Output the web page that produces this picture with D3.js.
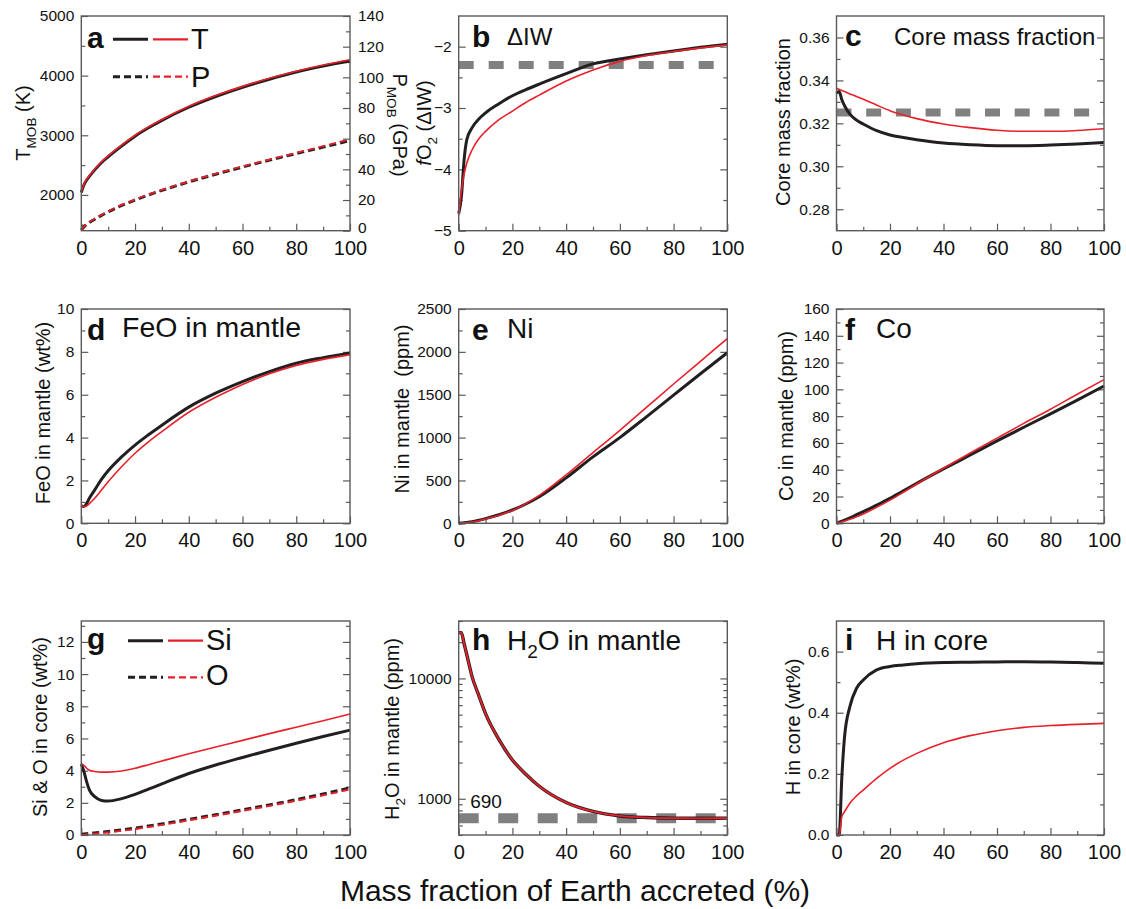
<!DOCTYPE html>
<html>
<head>
<meta charset="utf-8">
<script src="https://cdn.jsdelivr.net/npm/d3@7"></script>
<style>
  body { margin: 0; background: #fff; }
  svg { display: block; }
  text { font-family: "Liberation Sans", Arial, Helvetica, sans-serif; fill: #111; }
</style>
</head>
<body>
<svg id="chart" width="1126" height="909"></svg>
<script>
// Mass fraction of Earth accreted (%) at which every model series is sampled
const accreted = [0, 1, 2, 3, 5, 7.5, 10, 15, 20, 25, 30, 40, 50, 60, 70, 80, 90, 100];

// a: magma-ocean-base temperature (K) and pressure (GPa)
const tempBlack = [2040, 2170, 2250, 2310, 2420, 2540, 2640, 2820, 2985, 3125, 3250, 3470, 3650, 3805, 3940, 4060, 4160, 4245];
const tempRed   = [2050, 2180, 2262, 2322, 2432, 2553, 2655, 2835, 3000, 3140, 3265, 3485, 3665, 3820, 3955, 4075, 4178, 4265];
const presBlack = [0.5, 2.5, 4, 5.3, 7.5, 10, 12.3, 16.5, 20, 23.3, 26.3, 31.8, 36.8, 41.5, 46, 50.3, 54.5, 58.8];
const presRed   = [0.5, 2.7, 4.2, 5.5, 7.8, 10.3, 12.6, 16.8, 20.3, 23.6, 26.6, 32.1, 37.1, 41.9, 46.4, 50.8, 55.1, 59.6];

// b: oxygen fugacity relative to IW
const fo2Black = [-4.72, -4.45, -3.85, -3.52, -3.32, -3.18, -3.08, -2.93, -2.80, -2.70, -2.61, -2.44, -2.28, -2.20, -2.13, -2.07, -2.01, -1.96];
const fo2Red   = [-4.75, -4.35, -4.08, -3.90, -3.68, -3.50, -3.38, -3.19, -3.05, -2.91, -2.79, -2.56, -2.38, -2.24, -2.145, -2.08, -2.02, -1.97];
const fo2Ref = -2.3;

// c: core mass fraction
const cmfBlack = [0.3340, 0.3348, 0.3310, 0.3282, 0.3243, 0.3215, 0.3197, 0.3166, 0.3146, 0.3134, 0.3124, 0.3108, 0.3100, 0.3096, 0.3096, 0.3099, 0.3104, 0.3111];
const cmfRed   = [0.3363, 0.3358, 0.3353, 0.3348, 0.3337, 0.3325, 0.3312, 0.3285, 0.3259, 0.3239, 0.3222, 0.3197, 0.3180, 0.3168, 0.3163, 0.3163, 0.3167, 0.3175];
const cmfRef = 0.325;

// d: FeO in mantle (wt%)
const feoBlack = [0.82, 0.78, 0.93, 1.17, 1.56, 2.05, 2.45, 3.10, 3.65, 4.13, 4.58, 5.42, 6.07, 6.61, 7.08, 7.47, 7.73, 7.95];
const feoRed   = [0.86, 0.78, 0.81, 0.92, 1.17, 1.55, 1.94, 2.64, 3.27, 3.80, 4.28, 5.18, 5.88, 6.48, 6.98, 7.37, 7.65, 7.87];

// e: Ni in mantle (ppm)
const niBlack = [0, 3, 7, 10, 18, 35, 55, 100, 155, 225, 310, 530, 775, 1000, 1245, 1495, 1745, 1990];
const niRed   = [0, 2, 5, 8, 15, 30, 50, 95, 150, 230, 325, 565, 825, 1085, 1355, 1625, 1890, 2155];

// f: Co in mantle (ppm)
const coBlack = [0, 0.8, 1.6, 2.4, 4.1, 6.4, 8.7, 13.6, 18.7, 24.2, 29.8, 40.6, 51.0, 61.5, 71.7, 81.7, 92.0, 102.5];
const coRed   = [0, 0.5, 1.1, 1.7, 3.0, 4.9, 7.0, 11.9, 17.3, 23.2, 29.3, 41.1, 52.5, 63.6, 74.6, 85.2, 96.4, 107.3];

// g: Si and O in core (wt%)
const siBlack = [4.41, 3.93, 3.30, 2.80, 2.38, 2.15, 2.11, 2.26, 2.52, 2.85, 3.18, 3.82, 4.35, 4.82, 5.27, 5.70, 6.12, 6.52];
const siRed   = [4.41, 4.33, 4.15, 4.03, 3.95, 3.91, 3.91, 3.98, 4.15, 4.37, 4.60, 5.05, 5.47, 5.88, 6.30, 6.70, 7.10, 7.52];
const oBlack  = [0.05, 0.06, 0.08, 0.10, 0.13, 0.17, 0.22, 0.32, 0.43, 0.56, 0.69, 0.97, 1.26, 1.56, 1.87, 2.20, 2.55, 2.93];
const oRed    = [0.00, 0.02, 0.03, 0.05, 0.08, 0.12, 0.16, 0.26, 0.37, 0.50, 0.63, 0.91, 1.20, 1.50, 1.81, 2.13, 2.47, 2.83];

// h: H2O in mantle (ppm)
const h2oBlack = [24000, 24000, 19500, 15800, 10300, 7200, 5100, 3100, 2100, 1600, 1270, 930, 785, 720, 698, 690, 688, 690];
const h2oRed   = [24000, 24000, 19500, 15800, 10300, 7200, 5100, 3100, 2100, 1600, 1270, 930, 785, 720, 698, 690, 688, 690];
const h2oRef = 690;

// i: H in core (wt%)
const hBlack = [0, 0, 0.19, 0.32, 0.42, 0.48, 0.507, 0.540, 0.551, 0.556, 0.560, 0.564, 0.565, 0.566, 0.567, 0.566, 0.564, 0.562];
const hRed   = [0, 0, 0.060, 0.076, 0.104, 0.128, 0.147, 0.185, 0.218, 0.245, 0.267, 0.302, 0.325, 0.341, 0.352, 0.358, 0.362, 0.365];

// axis ticks
const xMajorTicks = [0, 20, 40, 60, 80, 100];
const xMinorTicks = [10, 30, 50, 70, 90];

const INK = "#231f20", RED = "#e8202a", REF = "#808080", FRAME = "#5a5a5a";

const svg = d3.select("#chart");

// panel grid (plot-area edges)
const cols = [[81.3, 350], [458.7, 727.3], [836.5, 1104]];
const rows = [[16, 230.7], [309, 523.3], [621, 835]];

// text with optional subscript / italic runs
function richText(parent, parts, size, attrs) {
  const t = parent.append("text").attr("font-size", size);
  Object.entries(attrs || {}).forEach(([k, v]) => t.attr(k, v));
  let shift = 0;
  parts.forEach(p => {
    const s = t.append("tspan").text(p.t);
    const want = p.sub ? size * 0.28 : 0;
    if (want !== shift) { s.attr("dy", want - shift); shift = want; }
    if (p.sub) s.attr("font-size", size * 0.68);
    if (p.italic) s.attr("font-style", "italic");
    if (p.bold) s.attr("font-weight", "bold");
  });
  return t;
}

function drawPanel(p) {
  const [x0, x1] = cols[p.col], [y0, y1] = rows[p.row];
  const x = d3.scaleLinear().domain([0, 100]).range([x0, x1]);
  const y = (p.log ? d3.scaleLog() : d3.scaleLinear()).domain(p.domain).range([y1, y0]);
  const g = svg.append("g");

  const strip = s => s.call(a => a.select(".domain").remove());
  const style = (sel, size) => {
    sel.selectAll("line").attr("stroke", FRAME).attr("stroke-width", 1.2);
    sel.selectAll("text").attr("font-size", size).attr("fill", "#111")
       .attr("font-family", '"Liberation Sans", Arial, sans-serif');
  };

  // bottom axis
  g.append("g").attr("transform", `translate(0,${y1})`)
    .call(d3.axisBottom(x).tickValues(xMajorTicks).tickSize(-7).tickPadding(10).tickFormat(d3.format("d")))
    .call(strip).call(s => style(s, 20));
  g.append("g").attr("transform", `translate(0,${y1})`)
    .call(d3.axisBottom(x).tickValues(xMinorTicks).tickSize(-4).tickFormat(""))
    .call(strip).call(s => style(s, 20));

  // left axis
  g.append("g").attr("transform", `translate(${x0},0)`)
    .call(d3.axisLeft(y).tickValues(p.major).tickSize(-7).tickPadding(7).tickFormat(p.fmt))
    .call(strip).call(s => style(s, 15.5));
  g.append("g").attr("transform", `translate(${x0},0)`)
    .call(d3.axisLeft(y).tickValues(p.minor).tickSize(-4).tickFormat(""))
    .call(strip).call(s => style(s, 15.5));

  // right axis (own scale in panel a, mirrored ticks elsewhere)
  if (p.right) {
    const yr = d3.scaleLinear().domain(p.right.domain).range([y1, y0]);
    g.append("g").attr("transform", `translate(${x1},0)`)
      .call(d3.axisRight(yr).tickValues(p.right.major).tickSize(-7).tickPadding(8).tickFormat(d3.format("d")))
      .call(strip).call(s => style(s, 15.5))
      // lift the bottom label clear of the x tick label below it
      .call(s => s.selectAll(".tick").filter(d => d === p.right.domain[0]).select("text").attr("dy", "0.1em"));
    g.append("g").attr("transform", `translate(${x1},0)`)
      .call(d3.axisRight(yr).tickValues(p.right.minor).tickSize(-4).tickFormat(""))
      .call(strip).call(s => style(s, 15.5));
    p.yRight = yr;
  } else {
    g.append("g").attr("transform", `translate(${x1},0)`)
      .call(d3.axisRight(y).tickValues(p.major).tickSize(-7).tickFormat(""))
      .call(strip).call(s => style(s, 15.5));
    g.append("g").attr("transform", `translate(${x1},0)`)
      .call(d3.axisRight(y).tickValues(p.minor).tickSize(-4).tickFormat(""))
      .call(strip).call(s => style(s, 15.5));
  }

  // reference level
  if (p.ref) {
    g.append("line")
      .attr("x1", x0).attr("x2", x1)
      .attr("y1", y(p.ref.value)).attr("y2", y(p.ref.value))
      .attr("stroke", REF).attr("stroke-width", p.ref.width)
      .attr("stroke-dasharray", p.ref.dash);
    if (p.ref.label) {
      g.append("text").attr("x", x0 + 11.5).attr("y", y(p.ref.value) - 10)
        .attr("font-size", 19).text(p.ref.label);
    }
  }

  // series
  p.series.forEach(s => {
    const ys = s.right ? p.yRight : y;
    const line = d3.line().x((d, i) => x(accreted[i])).y(d => ys(d)).curve(d3.curveMonotoneX);
    g.append("path").attr("d", line(s.values))
      .attr("fill", "none").attr("stroke", s.color).attr("stroke-width", s.width)
      .attr("stroke-linejoin", "round")
      .attr("stroke-dasharray", s.dash || null);
  });

  // frame
  g.append("rect").attr("x", x0).attr("y", y0).attr("width", x1 - x0).attr("height", y1 - y0)
    .attr("fill", "none").attr("stroke", FRAME).attr("stroke-width", 1.4);

  // panel letter and title
  g.append("text").attr("x", p.letter.x).attr("y", p.letter.y)
    .attr("font-size", 30).attr("font-weight", "bold").text(p.letter.t);
  if (p.title) richText(g, p.title.parts, p.title.size, { x: p.title.x, y: p.title.y });

  // y titles
  p.yTitles.forEach(t => {
    richText(g, t.parts, 20, {
      transform: `translate(${t.x},${t.y}) rotate(${t.rot})`,
      "text-anchor": "middle"
    });
  });

  // legend rows
  (p.legend || []).forEach(l => {
    g.append("line").attr("x1", l.x).attr("x2", l.x + 35).attr("y1", l.y).attr("y2", l.y)
      .attr("stroke", INK).attr("stroke-width", 3).attr("stroke-dasharray", l.dash ? "7,4" : null);
    g.append("line").attr("x1", l.x + 40).attr("x2", l.x + 75).attr("y1", l.y).attr("y2", l.y)
      .attr("stroke", RED).attr("stroke-width", 2.2).attr("stroke-dasharray", l.dash ? "7,4" : null);
    g.append("text").attr("x", l.x + 78).attr("y", l.ty).attr("font-size", 29).text(l.t);
  });
}

const f0 = d3.format("d"), f2 = d3.format(".2f"), f1 = d3.format(".1f");
const range = (a, b, s) => d3.range(a, b + s / 2, s);

const panels = [
  { col: 0, row: 0, domain: [1400, 5000], major: [2000, 3000, 4000, 5000], minor: [1500, 2500, 3500, 4500], fmt: f0,
    right: { domain: [0, 140], major: range(0, 140, 20), minor: range(10, 130, 20) },
    series: [
      { values: tempBlack, color: INK, width: 3 },
      { values: tempRed, color: RED, width: 1.6 },
      { values: presBlack, color: INK, width: 3, dash: "7,4", right: true },
      { values: presRed, color: RED, width: 1.8, dash: "7,4", right: true }
    ],
    letter: { t: "a", x: 87, y: 48 },
    legend: [{ x: 113, y: 39.3, ty: 49, t: "T" }, { x: 113, y: 76.7, ty: 87, t: "P", dash: true }],
    yTitles: [
      { x: 30, y: 123, rot: -90, parts: [{ t: "T" }, { t: "MOB", sub: true }, { t: " (K)" }] },
      { x: 393, y: 125, rot: 90, parts: [{ t: "P" }, { t: "MOB", sub: true }, { t: " (GPa)" }] }
    ] },
  { col: 1, row: 0, domain: [-5, -1.5], major: [-5, -4, -3, -2], minor: [-4.5, -3.5, -2.5], fmt: f0,
    ref: { value: fo2Ref, width: 8, dash: "15,15" },
    series: [
      { values: fo2Black, color: INK, width: 3 },
      { values: fo2Red, color: RED, width: 1.6 }
    ],
    letter: { t: "b", x: 472, y: 47 },
    title: { x: 507, y: 45, size: 24, parts: [{ t: "ΔIW" }] },
    yTitles: [{ x: 431, y: 123, rot: -90, parts: [{ t: "f", italic: true }, { t: "O" }, { t: "2", sub: true }, { t: " (ΔIW)" }] }] },
  { col: 2, row: 0, domain: [0.27, 0.37], major: [0.28, 0.30, 0.32, 0.34, 0.36], minor: [0.29, 0.31, 0.33, 0.35], fmt: f2,
    ref: { value: cmfRef, width: 8, dash: "15,14.7" },
    series: [
      { values: cmfBlack, color: INK, width: 3 },
      { values: cmfRed, color: RED, width: 1.6 }
    ],
    letter: { t: "c", x: 845, y: 46 },
    title: { x: 894, y: 45, size: 24, parts: [{ t: "Core mass fraction" }] },
    yTitles: [{ x: 790, y: 122, rot: -90, parts: [{ t: "Core mass fraction" }] }] },
  { col: 0, row: 1, domain: [0, 10], major: range(0, 10, 2), minor: range(1, 9, 2), fmt: f0,
    series: [
      { values: feoBlack, color: INK, width: 3 },
      { values: feoRed, color: RED, width: 1.6 }
    ],
    letter: { t: "d", x: 87, y: 340 },
    title: { x: 122, y: 337, size: 28.5, parts: [{ t: "FeO in mantle" }] },
    yTitles: [{ x: 50, y: 413, rot: -90, parts: [{ t: "FeO in mantle (wt%)" }] }] },
  { col: 1, row: 1, domain: [0, 2500], major: range(0, 2500, 500), minor: range(250, 2250, 500), fmt: f0,
    series: [
      { values: niBlack, color: INK, width: 3 },
      { values: niRed, color: RED, width: 1.6 }
    ],
    letter: { t: "e", x: 472, y: 340 },
    title: { x: 507, y: 338, size: 28, parts: [{ t: "Ni" }] },
    yTitles: [{ x: 409, y: 409, rot: -90, parts: [{ t: "Ni in mantle\u00a0\u00a0(ppm)" }] }] },
  { col: 2, row: 1, domain: [0, 160], major: range(0, 160, 20), minor: range(10, 150, 20), fmt: f0,
    series: [
      { values: coBlack, color: INK, width: 3 },
      { values: coRed, color: RED, width: 1.6 }
    ],
    letter: { t: "f", x: 845, y: 340 },
    title: { x: 876, y: 338, size: 28, parts: [{ t: "Co" }] },
    yTitles: [{ x: 793, y: 416, rot: -90, parts: [{ t: "Co in mantle (ppm)" }] }] },
  { col: 0, row: 2, domain: [0, 13.3], major: range(0, 12, 2), minor: range(1, 13, 2), fmt: f0,
    series: [
      { values: siBlack, color: INK, width: 3 },
      { values: siRed, color: RED, width: 1.6 },
      { values: oBlack, color: INK, width: 3, dash: "7,4" },
      { values: oRed, color: RED, width: 2, dash: "7,4" }
    ],
    letter: { t: "g", x: 87, y: 649 },
    legend: [{ x: 128, y: 640.7, ty: 650, t: "Si" }, { x: 128, y: 677.3, ty: 685, t: "O", dash: true }],
    yTitles: [{ x: 47, y: 727, rot: -90, parts: [{ t: "Si & O in core (wt%)" }] }] },
  { col: 1, row: 2, log: true, domain: [500, 30000], major: [1000, 10000],
    minor: [500, 600, 700, 800, 900, 2000, 3000, 4000, 5000, 6000, 7000, 8000, 9000, 20000, 30000], fmt: f0,
    ref: { value: h2oRef, width: 10, dash: "20,19.5", label: "690" },
    series: [
      { values: h2oBlack, color: INK, width: 3.4 },
      { values: h2oRed, color: RED, width: 1.8 }
    ],
    letter: { t: "h", x: 472, y: 650 },
    title: { x: 507, y: 650, size: 28, parts: [{ t: "H" }, { t: "2", sub: true }, { t: "O in mantle" }] },
    yTitles: [{ x: 399, y: 729, rot: -90, parts: [{ t: "H" }, { t: "2", sub: true }, { t: "O in mantle (ppm)" }] }] },
  { col: 2, row: 2, domain: [0, 0.7], major: [0, 0.2, 0.4, 0.6], minor: [0.1, 0.3, 0.5], fmt: f1,
    series: [
      { values: hBlack, color: INK, width: 3 },
      { values: hRed, color: RED, width: 1.6 }
    ],
    letter: { t: "i", x: 845, y: 650 },
    title: { x: 876, y: 650, size: 28, parts: [{ t: "H in core" }] },
    yTitles: [{ x: 800, y: 727, rot: -90, parts: [{ t: "H in core (wt%)" }] }] }
];

panels.forEach(drawPanel);

// shared x-axis title
svg.append("text").attr("x", 575).attr("y", 901).attr("text-anchor", "middle")
  .attr("font-size", 30).text("Mass fraction of Earth accreted (%)");
</script>
</body>
</html>
